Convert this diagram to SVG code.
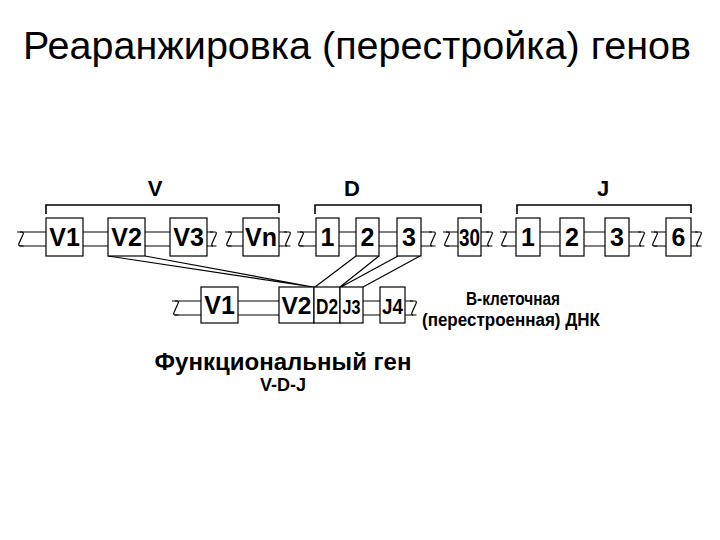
<svg xmlns="http://www.w3.org/2000/svg" xmlns:xlink="http://www.w3.org/1999/xlink" width="720" height="540" viewBox="0 0 720 540">
<defs>
<style>
.bg{fill:#fff}
.ln{stroke:#000;stroke-width:1.2;fill:none}
.bx{fill:#fff;stroke:#000;stroke-width:1.2}
.br{stroke:#000;stroke-width:1.6;fill:none}
.t{font-family:"Liberation Sans",Arial,sans-serif;font-weight:bold;fill:#000;text-anchor:middle}
.title{font-family:"Liberation Sans",Arial,sans-serif;font-size:38px;fill:#000;text-anchor:middle}
</style>
<path id="z" d="M-3,0 h5 q2,0 1,2.5 l-4,9 q-1,2.5 1.5,2.5 h3" class="ln"/>
</defs>
<rect class="bg" x="0" y="0" width="720" height="540"/>
<text class="title" x="357" y="59" textLength="668" lengthAdjust="spacingAndGlyphs">Реаранжировка (перестройка) генов</text>

<g id="brackets">
<path class="br" d="M46,214 V205 H279 V213"/>
<path class="br" d="M315,214 V205 H481 V213"/>
<path class="br" d="M517,214 V205 H691 V213"/>
<text class="t" x="155" y="196" font-size="22">V</text>
<text class="t" x="352" y="196" font-size="22">D</text>
<text class="t" x="603" y="196" font-size="22">J</text>
</g>

<g id="chromosome-top">
<path class="ln" d="M20,232 H213 M20,246 H213 M228,232 H287 M228,246 H287 M300,232 H432 M300,246 H432 M446,232 H489 M446,246 H489 M503,232 H641 M503,246 H641 M654,232 H698 M654,246 H698"/>
<use xlink:href="#z" x="20" y="232"/>
<use xlink:href="#z" x="213" y="232"/>
<use xlink:href="#z" x="228" y="232"/>
<use xlink:href="#z" x="287" y="232"/>
<use xlink:href="#z" x="300" y="232"/>
<use xlink:href="#z" x="432" y="232"/>
<use xlink:href="#z" x="446" y="232"/>
<use xlink:href="#z" x="489" y="232"/>
<use xlink:href="#z" x="503" y="232"/>
<use xlink:href="#z" x="641" y="232"/>
<use xlink:href="#z" x="654" y="232"/>
<use xlink:href="#z" x="698" y="232"/>
</g>

<g id="chromosome-bottom">
<path class="ln" d="M175,301 H413 M175,315 H413"/>
<use xlink:href="#z" x="175" y="301"/>
<use xlink:href="#z" x="413" y="301"/>
</g>

<g id="connectors">
<path class="ln" d="M108,256 L313,287 M145,256 L313,287 M356,256 L315,287 M379,256 L340,287 M398,256 L341,287 M420,256 L363,287"/>
</g>

<g id="V1"><rect class="bx" x="46" y="218" width="37" height="38"/><text class="t" x="64.5" y="246" font-size="25">V1</text></g>
<g id="V2"><rect class="bx" x="108" y="218" width="37" height="38"/><text class="t" x="126.5" y="246" font-size="25">V2</text></g>
<g id="V3"><rect class="bx" x="170" y="218" width="37" height="38"/><text class="t" x="188.5" y="246" font-size="25">V3</text></g>
<g id="Vn"><rect class="bx" x="243" y="218" width="36" height="38"/><text class="t" x="261" y="246" font-size="25" textLength="32" lengthAdjust="spacingAndGlyphs">Vn</text></g>
<g id="D1"><rect class="bx" x="316" y="218" width="23" height="38"/><text class="t" x="327.5" y="246" font-size="25">1</text></g>
<g id="D2"><rect class="bx" x="356" y="218" width="23" height="38"/><text class="t" x="367.5" y="246" font-size="25">2</text></g>
<g id="D3"><rect class="bx" x="397" y="218" width="24" height="38"/><text class="t" x="409" y="246" font-size="25">3</text></g>
<g id="D30"><rect class="bx" x="458" y="218" width="23" height="38"/><text class="t" x="469.5" y="246" font-size="24" textLength="21" lengthAdjust="spacingAndGlyphs">30</text></g>
<g id="J1"><rect class="bx" x="516" y="218" width="24" height="38"/><text class="t" x="528" y="246" font-size="25">1</text></g>
<g id="J2"><rect class="bx" x="560" y="218" width="24" height="38"/><text class="t" x="572" y="246" font-size="25">2</text></g>
<g id="J3"><rect class="bx" x="605" y="218" width="24" height="38"/><text class="t" x="617" y="246" font-size="25">3</text></g>
<g id="J6"><rect class="bx" x="666" y="218" width="25" height="38"/><text class="t" x="678.5" y="246" font-size="25">6</text></g>

<g id="bV1"><rect class="bx" x="201" y="287" width="37" height="36"/><text class="t" x="219.5" y="314" font-size="25">V1</text></g>
<g id="bV2"><rect class="bx" x="279" y="287" width="35" height="36"/><text class="t" x="296.5" y="314" font-size="24" textLength="30" lengthAdjust="spacingAndGlyphs">V2</text></g>
<g id="bD2"><rect class="bx" x="314" y="287" width="26" height="36"/><text class="t" x="327" y="314" font-size="22" textLength="22" lengthAdjust="spacingAndGlyphs">D2</text></g>
<g id="bJ3"><rect class="bx" x="340" y="287" width="23" height="36"/><text class="t" x="351.5" y="314" font-size="21" textLength="18" lengthAdjust="spacingAndGlyphs">J3</text></g>
<g id="bJ4"><rect class="bx" x="380" y="287" width="25" height="36"/><text class="t" x="392.5" y="314" font-size="22" textLength="21" lengthAdjust="spacingAndGlyphs">J4</text></g>

<g id="labels">
<text class="t" x="513" y="305" font-size="18" textLength="94" lengthAdjust="spacingAndGlyphs">В-клеточная</text>
<text class="t" x="511" y="326" font-size="18" textLength="178" lengthAdjust="spacingAndGlyphs">(перестроенная) ДНК</text>
<text class="t" x="283" y="370" font-size="23" textLength="257" lengthAdjust="spacingAndGlyphs">Функциональный ген</text>
<text class="t" x="283" y="391" font-size="18">V-D-J</text>
</g>
</svg>
